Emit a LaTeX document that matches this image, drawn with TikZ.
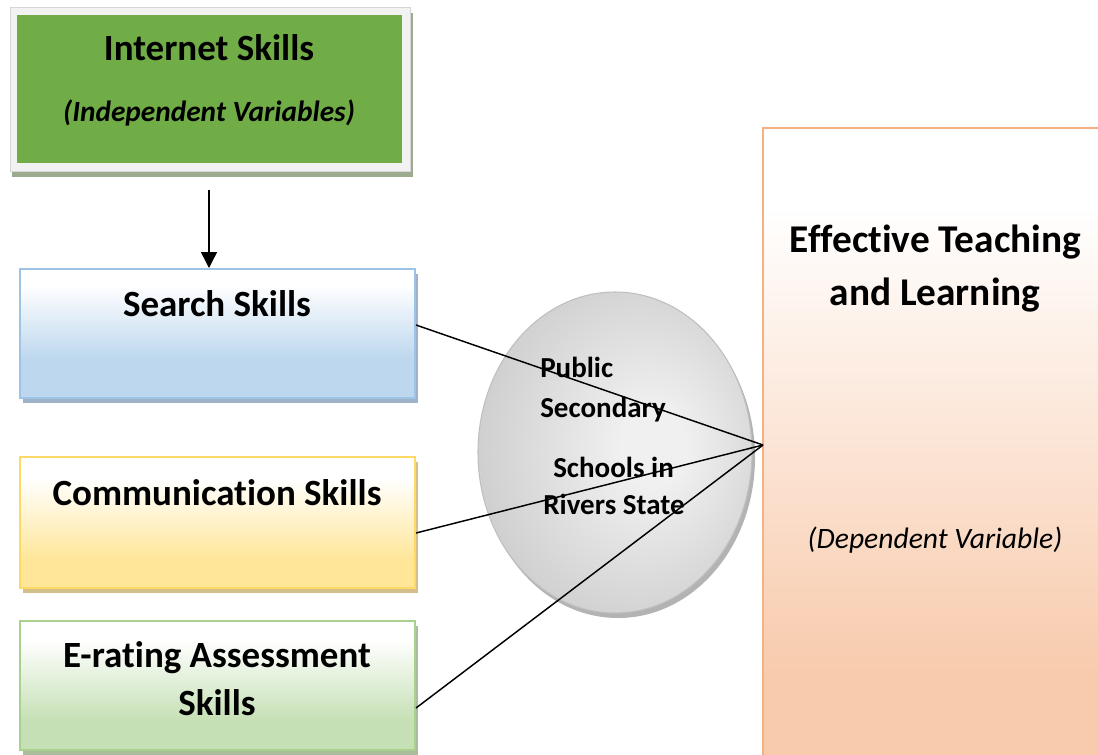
\documentclass[tikz,border=0pt]{standalone}
\usepackage{fontspec}
\setmainfont{Carlito}[Ligatures={NoCommon,NoRequired,NoContextual}]
\usetikzlibrary{shapes.geometric,fit,arrows.meta,calc}
\definecolor{grn}{HTML}{70AD47}
\definecolor{frameF}{HTML}{F2F2F2}
\definecolor{frameD}{HTML}{D6D6D6}
\definecolor{grnSh}{HTML}{9CAA8E}
\definecolor{blueB}{HTML}{BDD7EE}
\definecolor{blueBd}{HTML}{9DC3E6}
\definecolor{blueSh}{HTML}{9FB3C8}
\definecolor{yelB}{HTML}{FFE699}
\definecolor{yelBd}{HTML}{FFD966}
\definecolor{yelSh}{HTML}{D2BF8A}
\definecolor{lgB}{HTML}{C5E0B4}
\definecolor{lgBd}{HTML}{A9D18E}
\definecolor{lgSh}{HTML}{A9BC9C}
\definecolor{orB}{HTML}{F8CBAD}
\definecolor{orBd}{HTML}{F4B183}
\definecolor{ellIn}{HTML}{F0F0F0}
\definecolor{ellOut}{HTML}{D0D0D0}
\definecolor{ellBd}{HTML}{BFBFBF}
\definecolor{ellSh}{HTML}{B3B3B3}
\pgfdeclareverticalshading{blueshade}{100bp}{color(0bp)=(blueB); color(40bp)=(blueB); color(69bp)=(white); color(100bp)=(white)}
\pgfdeclareverticalshading{yelshade}{100bp}{color(0bp)=(yelB); color(36bp)=(yelB); color(67bp)=(white); color(100bp)=(white)}
\pgfdeclareverticalshading{lgshade}{100bp}{color(0bp)=(lgB); color(36bp)=(lgB); color(68bp)=(white); color(100bp)=(white)}
\pgfdeclareverticalshading{orshade}{100bp}{color(0bp)=(orB); color(33bp)=(orB); color(69bp)=(white); color(100bp)=(white)}
\pgfdeclareradialshading{ellshade}{\pgfpoint{8bp}{1bp}}{color(0bp)=(ellIn); color(6bp)=(ellIn); color(28bp)=(ellOut); color(50bp)=(ellOut)}
\begin{document}
\begin{tikzpicture}[x=0.75pt,y=-0.75pt,
  boxbase/.style={inner sep=0pt, line width=1.5pt, shade},
  hd/.style={inner sep=0pt, anchor=base, font=\fontsize{27.75pt}{33pt}\selectfont\bfseries},
  bighd/.style={inner sep=0pt, anchor=base, font=\fontsize{29.5pt}{35pt}\selectfont\bfseries},
  itbold/.style={inner sep=0pt, anchor=base, font=\fontsize{22pt}{26pt}\selectfont\bfseries\itshape},
  itreg/.style={inner sep=0pt, anchor=base, font=\fontsize{22.2pt}{26pt}\selectfont\itshape},
  elltxt/.style={inner sep=0pt, font=\fontsize{21.75pt}{26pt}\selectfont\bfseries},
  conn/.style={line width=1.1pt, black},
  arr/.style={line width=1.1pt, black, -{Triangle[width=12pt,length=12pt]}}
]
\useasboundingbox (0,0) rectangle (1098,754);
\clip (0,0) rectangle (1098,754);
\fill[white] (0,0) rectangle (1098,754);

% Internet Skills box
\fill[grnSh] (12,13) rectangle (413,177);
\node[fit={(10,7)(410,171)}, inner sep=0pt, fill=frameF, draw=frameD, line width=0.6pt] (inframe) {};
\node[fit={(17,15)(402,163)}, inner sep=0pt, fill=grn] (internet) {};
\node[hd] (t-internet) at (209,60) {Internet Skills};
\node[itbold] (t-indep) at (209,121) {(Independent Variables)};

% Search Skills
\fill[blueSh] (23,274) rectangle (418,403);
\node[boxbase, fit={(20,269)(415,398)}, draw=blueBd, shading=blueshade] (search) {};
\node[hd] (t-search) at (217,316) {Search Skills};

% Communication Skills
\fill[yelSh] (23,462) rectangle (418,593);
\node[boxbase, fit={(20,457)(415,588)}, draw=yelBd, shading=yelshade] (comm) {};
\node[hd] (t-comm) at (217,505) {Communication Skills};

% E-rating
\fill[lgSh] (23,626) rectangle (418,755);
\node[boxbase, fit={(20,621)(415,750)}, draw=lgBd, shading=lgshade] (erate) {};
\node[hd] (t-erate1) at (217,667) {E-rating Assessment};
\node[hd] (t-erate2) at (217,715) {Skills};

% Ellipse
\node[ellipse, inner sep=0pt, minimum width=205.5pt, minimum height=240.75pt, fill=ellSh] (ellsh) at (618,457.5) {};
\node[ellipse, inner sep=0pt, minimum width=205.5pt, minimum height=240.75pt, shade, shading=ellshade, draw=ellBd, line width=0.8pt] (ell) at (615,452.5) {};
\node[elltxt, anchor=base west] (t-public) at (540,377) {Public};
\node[elltxt, anchor=base west] (t-second) at (540,417) {Secondary};
\node[elltxt, anchor=base] (t-schools) at (613.5,477) {Schools in};
\node[elltxt, anchor=base] (t-rivers) at (614,514) {Rivers State};

% Right box
\node[boxbase, fit={(763,128)(1120,775)}, draw=orBd, shading=orshade] (eff) {};
\node[bighd] (t-eff1) at (935.5,252) {Effective Teaching};
\node[bighd] (t-eff2) at (935,305) {and Learning};
\node[itreg] (t-dep) at (935,548) {(Dependent Variable)};

% Connectors
\coordinate (conv) at (763,445);
\coordinate (arrtop) at (209,190);
\draw[arr] (arrtop) -- (arrtop |- search.north);
\draw[conn] (search.east |- 0,325) -- (conv);
\draw[conn] (comm.east |- 0,533) -- (conv);
\draw[conn] (erate.east |- 0,708) -- (conv);
\end{tikzpicture}
\end{document}
